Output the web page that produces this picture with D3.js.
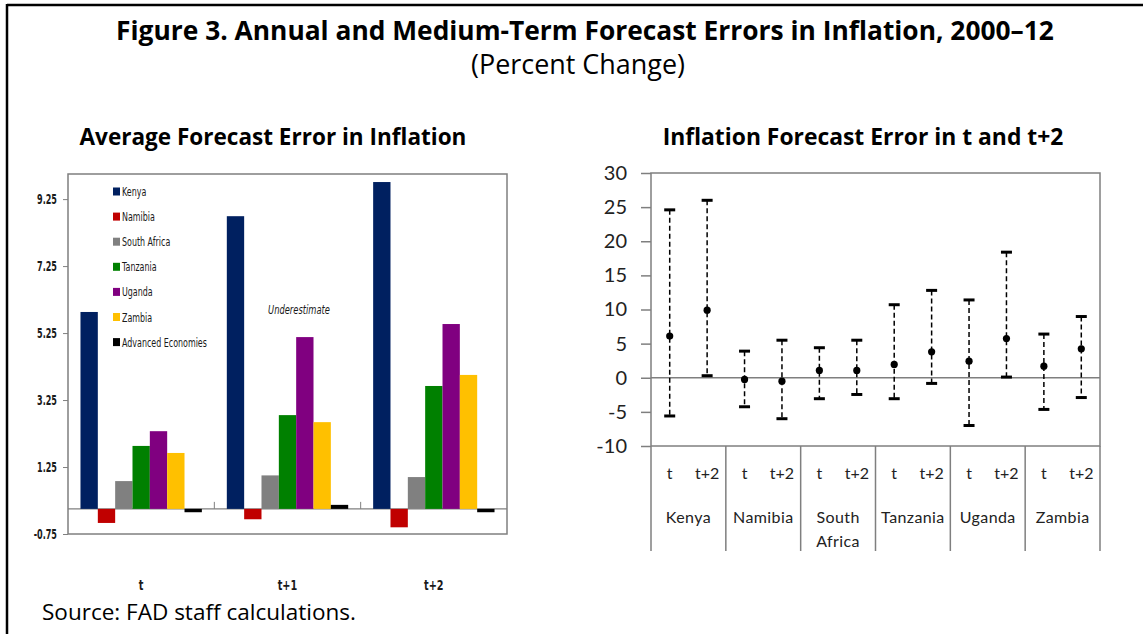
<!DOCTYPE html>
<html>
<head>
<meta charset="utf-8">
<script src="https://cdn.jsdelivr.net/npm/d3@7"></script>
<style>
  body { margin: 0; background: #fff; }
  svg { display: block; }
  .lab { font-family: "DejaVu Sans", "Liberation Sans", sans-serif; }
  .cal { font-family: Lato, "Open Sans", sans-serif; }
</style>
</head>
<body>
<svg id="fig" width="1143" height="634"></svg>
<script>
'use strict'

// left panel: average forecast error, by horizon
const horizons = ['t', 't+1', 't+2']
const seriesNames = ['Kenya', 'Namibia', 'South Africa', 'Tanzania', 'Uganda', 'Zambia', 'Advanced Economies']
const seriesColors = ['#002060', '#c00000', '#808080', '#008000', '#800080', '#ffc000', '#000000']
const kenya = [5.88, 8.74, 9.76]
const namibia = [-0.42, -0.31, -0.55]
const southAfrica = [0.83, 1.0, 0.95]
const tanzania = [1.88, 2.8, 3.67]
const uganda = [2.32, 5.13, 5.52]
const zambia = [1.67, 2.59, 4.0]
const advanced = [-0.1, 0.12, -0.1]
const leftTicks = [-0.75, 1.25, 3.25, 5.25, 7.25, 9.25]

// right panel: forecast error ranges in t and t+2
const countries = ['Kenya', 'Namibia', 'South Africa', 'Tanzania', 'Uganda', 'Zambia']
const subHorizons = ['t', 't+2']
const errMean = [6.1, 9.9, -0.25, -0.5, 1.07, 1.07, 1.95, 3.8, 2.43, 5.75, 1.7, 4.25]
const errHigh = [24.6, 26.0, 3.9, 5.5, 4.4, 5.5, 10.7, 12.8, 11.4, 18.4, 6.4, 8.97]
const errLow = [-5.6, 0.3, -4.25, -6.0, -3.07, -2.45, -3.07, -0.83, -7.0, 0.1, -4.64, -2.9]
const rightTicks = [-10, -5, 0, 5, 10, 15, 20, 25, 30]

const svg = d3.select('#fig')
const frame = '#7f7f7f'

// fit a text element to a target width by adjusting font size
const fitText = (sel, width) => {
  const size = parseFloat(sel.style('font-size'))
  const len = sel.node().getComputedTextLength()
  sel.style('font-size', (size * width / len).toFixed(2) + 'px')
}

// squeeze text horizontally (condensed look) about its own anchor point
const squeeze = (sel, f) => {
  sel.each(function () {
    const t = d3.select(this)
    const x = +t.attr('x') || 0
    const y = +t.attr('y') || 0
    t.attr('transform', `translate(${x},${y}) scale(${f},1) translate(${-x},${-y})`)
  })
}
const factorFor = (sel, width) => width / sel.node().getComputedTextLength()

// outer box
svg.append('line').attr('x1', 7).attr('x2', 1143).attr('y1', 5).attr('y2', 5)
  .attr('stroke', '#000').attr('stroke-width', 2.5)
svg.append('line').attr('x1', 7).attr('x2', 7).attr('y1', 4).attr('y2', 634)
  .attr('stroke', '#000').attr('stroke-width', 2.5)

// headings
const title = svg.append('text').attr('x', 585).attr('y', 40).attr('text-anchor', 'middle')
  .style('font-family', '"Open Sans", sans-serif').style('font-weight', 'bold').style('font-size', '24px')
  .text('Figure 3. Annual and Medium-Term Forecast Errors in Inflation, 2000–12')
fitText(title, 938)
const sub = svg.append('text').attr('x', 578).attr('y', 74).attr('text-anchor', 'middle')
  .style('font-family', '"Open Sans", sans-serif').style('font-size', '22px')
  .text('(Percent Change)')
fitText(sub, 214)
const lt = svg.append('text').attr('x', 273).attr('y', 145).attr('text-anchor', 'middle')
  .style('font-family', '"Open Sans", sans-serif').style('font-weight', 'bold').style('font-size', '20px')
  .text('Average Forecast Error in Inflation')
fitText(lt, 387)
const rt = svg.append('text').attr('x', 863).attr('y', 145).attr('text-anchor', 'middle')
  .style('font-family', '"Open Sans", sans-serif').style('font-weight', 'bold').style('font-size', '20px')
  .text('Inflation Forecast Error in t and t+2')
fitText(rt, 401)
const src = svg.append('text').attr('x', 42).attr('y', 620)
  .style('font-family', '"Open Sans", sans-serif').style('font-size', '19px')
  .text('Source: FAD staff calculations.')
fitText(src, 314)

// ---------- left panel ----------
const L = { left: 68, right: 507, top: 174, bottom: 534 }
const leftValues = [kenya, namibia, southAfrica, tanzania, uganda, zambia, advanced]

const x0 = d3.scaleBand().domain(horizons).range([L.left, L.right])
const x1 = d3.scaleBand().domain(seriesNames).range([0, x0.bandwidth()]).paddingOuter(0.72)
const yL = d3.scaleLinear().domain([-0.75, 10]).range([L.bottom, L.top])

const left = svg.append('g').attr('class', 'leftPanel')

left.append('line').attr('x1', L.left).attr('x2', L.right).attr('y1', yL(0)).attr('y2', yL(0))
  .attr('stroke', frame).attr('stroke-width', 1.2)
// small category ticks on the zero line
left.selectAll('line.catTick').data(horizons.slice(1)).enter().append('line')
  .attr('class', 'catTick')
  .attr('x1', (h) => x0(h)).attr('x2', (h) => x0(h))
  .attr('y1', yL(0)).attr('y2', yL(0) - 7)
  .attr('stroke', frame).attr('stroke-width', 1)

const groups = left.selectAll('g.grp').data(horizons).enter().append('g')
  .attr('class', 'grp')
  .attr('transform', (h) => `translate(${x0(h)},0)`)

groups.selectAll('rect').data((h, i) => seriesNames.map((s, k) => ({ s, k, v: leftValues[k][i] })))
  .enter().append('rect')
  .attr('x', (d) => x1(d.s))
  .attr('width', x1.bandwidth())
  .attr('y', (d) => yL(Math.max(0, d.v)))
  .attr('height', (d) => Math.abs(yL(d.v) - yL(0)))
  .attr('fill', (d) => seriesColors[d.k])

left.append('rect').attr('x', L.left).attr('y', L.top)
  .attr('width', L.right - L.left).attr('height', L.bottom - L.top)
  .attr('fill', 'none').attr('stroke', frame).attr('stroke-width', 1.5)

const yAxisL = left.append('g').attr('transform', `translate(${L.left},0)`)
  .call(d3.axisLeft(yL).tickValues(leftTicks).tickFormat((d) => d.toFixed(2)).tickSize(5).tickPadding(6))
yAxisL.select('.domain').remove()
yAxisL.selectAll('line').attr('stroke', frame)
const yTxtL = yAxisL.selectAll('text').attr('class', 'lab')
  .style('font-size', '13.5px').style('font-weight', 'bold').attr('fill', '#1a1a1a')
squeeze(yTxtL, factorFor(yTxtL.filter((d) => d === 9.25), 20))

const hzTxt = left.selectAll('text.hz').data(horizons).enter().append('text')
  .attr('class', 'hz lab')
  .attr('x', (h) => x0(h) + x0.bandwidth() / 2).attr('y', 590)
  .attr('text-anchor', 'middle').style('font-size', '13.5px').style('font-weight', 'bold').attr('fill', '#1a1a1a')
  .text((h) => h)
squeeze(hzTxt, 0.72)

const under = left.append('text').attr('class', 'lab').attr('x', 299).attr('y', 314).attr('text-anchor', 'middle')
  .style('font-size', '13px').style('font-style', 'italic').attr('fill', '#1a1a1a')
  .text('Underestimate')
squeeze(under, factorFor(under, 62))

const legend = left.selectAll('g.legendItem').data(seriesNames).enter().append('g')
  .attr('class', 'legendItem')
  .attr('transform', (s, i) => `translate(113,${191.5 + i * 25.1})`)
legend.append('rect').attr('x', 0).attr('y', -4).attr('width', 7).attr('height', 8)
  .attr('fill', (s, i) => seriesColors[i])
const legTxt = legend.append('text').attr('class', 'lab').attr('x', 9).attr('y', 4.5)
  .style('font-size', '13px').attr('fill', '#1a1a1a')
  .text((s) => s)
squeeze(legTxt, factorFor(legTxt.filter((s) => s === 'Advanced Economies'), 85))

// ---------- right panel ----------
const R = { left: 651, right: 1100, top: 173, bottom: 446 }
const pointKeys = countries.flatMap((c) => subHorizons.map((h) => `${c}|${h}`))
const xR = d3.scaleBand().domain(pointKeys).range([R.left, R.right])
const xC = d3.scaleBand().domain(countries).range([R.left, R.right])
const yR = d3.scaleLinear().domain([-10, 30]).range([R.bottom, R.top])

const right = svg.append('g').attr('class', 'rightPanel')

right.append('line').attr('x1', R.left).attr('x2', R.right).attr('y1', yR(0)).attr('y2', yR(0))
  .attr('stroke', frame).attr('stroke-width', 1.5)

right.append('rect').attr('x', R.left).attr('y', R.top)
  .attr('width', R.right - R.left).attr('height', R.bottom - R.top)
  .attr('fill', 'none').attr('stroke', frame).attr('stroke-width', 1.5)

const yAxisR = right.append('g').attr('transform', `translate(${R.left},0)`)
  .call(d3.axisLeft(yR).tickValues(rightTicks).tickFormat((d) => String(d)).tickSize(10).tickPadding(14))
yAxisR.select('.domain').remove()
yAxisR.selectAll('line').attr('stroke', frame).attr('stroke-width', 1.5)
yAxisR.selectAll('text').attr('class', 'cal').style('font-size', '20px').attr('fill', '#222')

// category separators below the plot
const seps = countries.map((c) => xC(c)).concat([R.right])
right.selectAll('line.sep').data(seps).enter().append('line')
  .attr('class', 'sep')
  .attr('x1', (x) => x).attr('x2', (x) => x)
  .attr('y1', R.bottom).attr('y2', 551)
  .attr('stroke', frame).attr('stroke-width', 1.5)

right.selectAll('text.sub').data(pointKeys).enter().append('text')
  .attr('class', 'sub cal')
  .attr('x', (k) => xR(k) + xR.bandwidth() / 2).attr('y', 479)
  .attr('text-anchor', 'middle').style('font-size', '16px').attr('fill', '#222')
  .text((k) => k.split('|')[1])

const cLabels = right.selectAll('text.country').data(countries).enter().append('text')
  .attr('class', 'country cal')
  .attr('x', (c) => xC(c) + xC.bandwidth() / 2).attr('y', 523)
  .attr('text-anchor', 'middle').style('font-size', '16px').style('letter-spacing', '0.4px').attr('fill', '#222')
cLabels.each(function (c) {
  const parts = c === 'South Africa' ? ['South', 'Africa'] : [c]
  parts.forEach((p, i) => {
    d3.select(this).append('tspan').attr('x', xC(c) + xC.bandwidth() / 2)
      .attr('dy', i === 0 ? 0 : 24).text(p)
  })
})

const bars = right.selectAll('g.err').data(pointKeys).enter().append('g')
  .attr('class', 'err')
  .attr('transform', (k) => `translate(${xR(k) + xR.bandwidth() / 2},0)`)
bars.append('line')
  .attr('y1', (k, i) => yR(errHigh[i])).attr('y2', (k, i) => yR(errLow[i]))
  .attr('stroke', '#000').attr('stroke-width', 1.5).attr('stroke-dasharray', '5,3')
bars.append('line')
  .attr('x1', -5.5).attr('x2', 5.5)
  .attr('y1', (k, i) => yR(errHigh[i])).attr('y2', (k, i) => yR(errHigh[i]))
  .attr('stroke', '#000').attr('stroke-width', 3)
bars.append('line')
  .attr('x1', -5.5).attr('x2', 5.5)
  .attr('y1', (k, i) => yR(errLow[i])).attr('y2', (k, i) => yR(errLow[i]))
  .attr('stroke', '#000').attr('stroke-width', 3)
bars.append('circle')
  .attr('cy', (k, i) => yR(errMean[i])).attr('r', 3.6)
  .attr('fill', '#000')
</script>
</body>
</html>
